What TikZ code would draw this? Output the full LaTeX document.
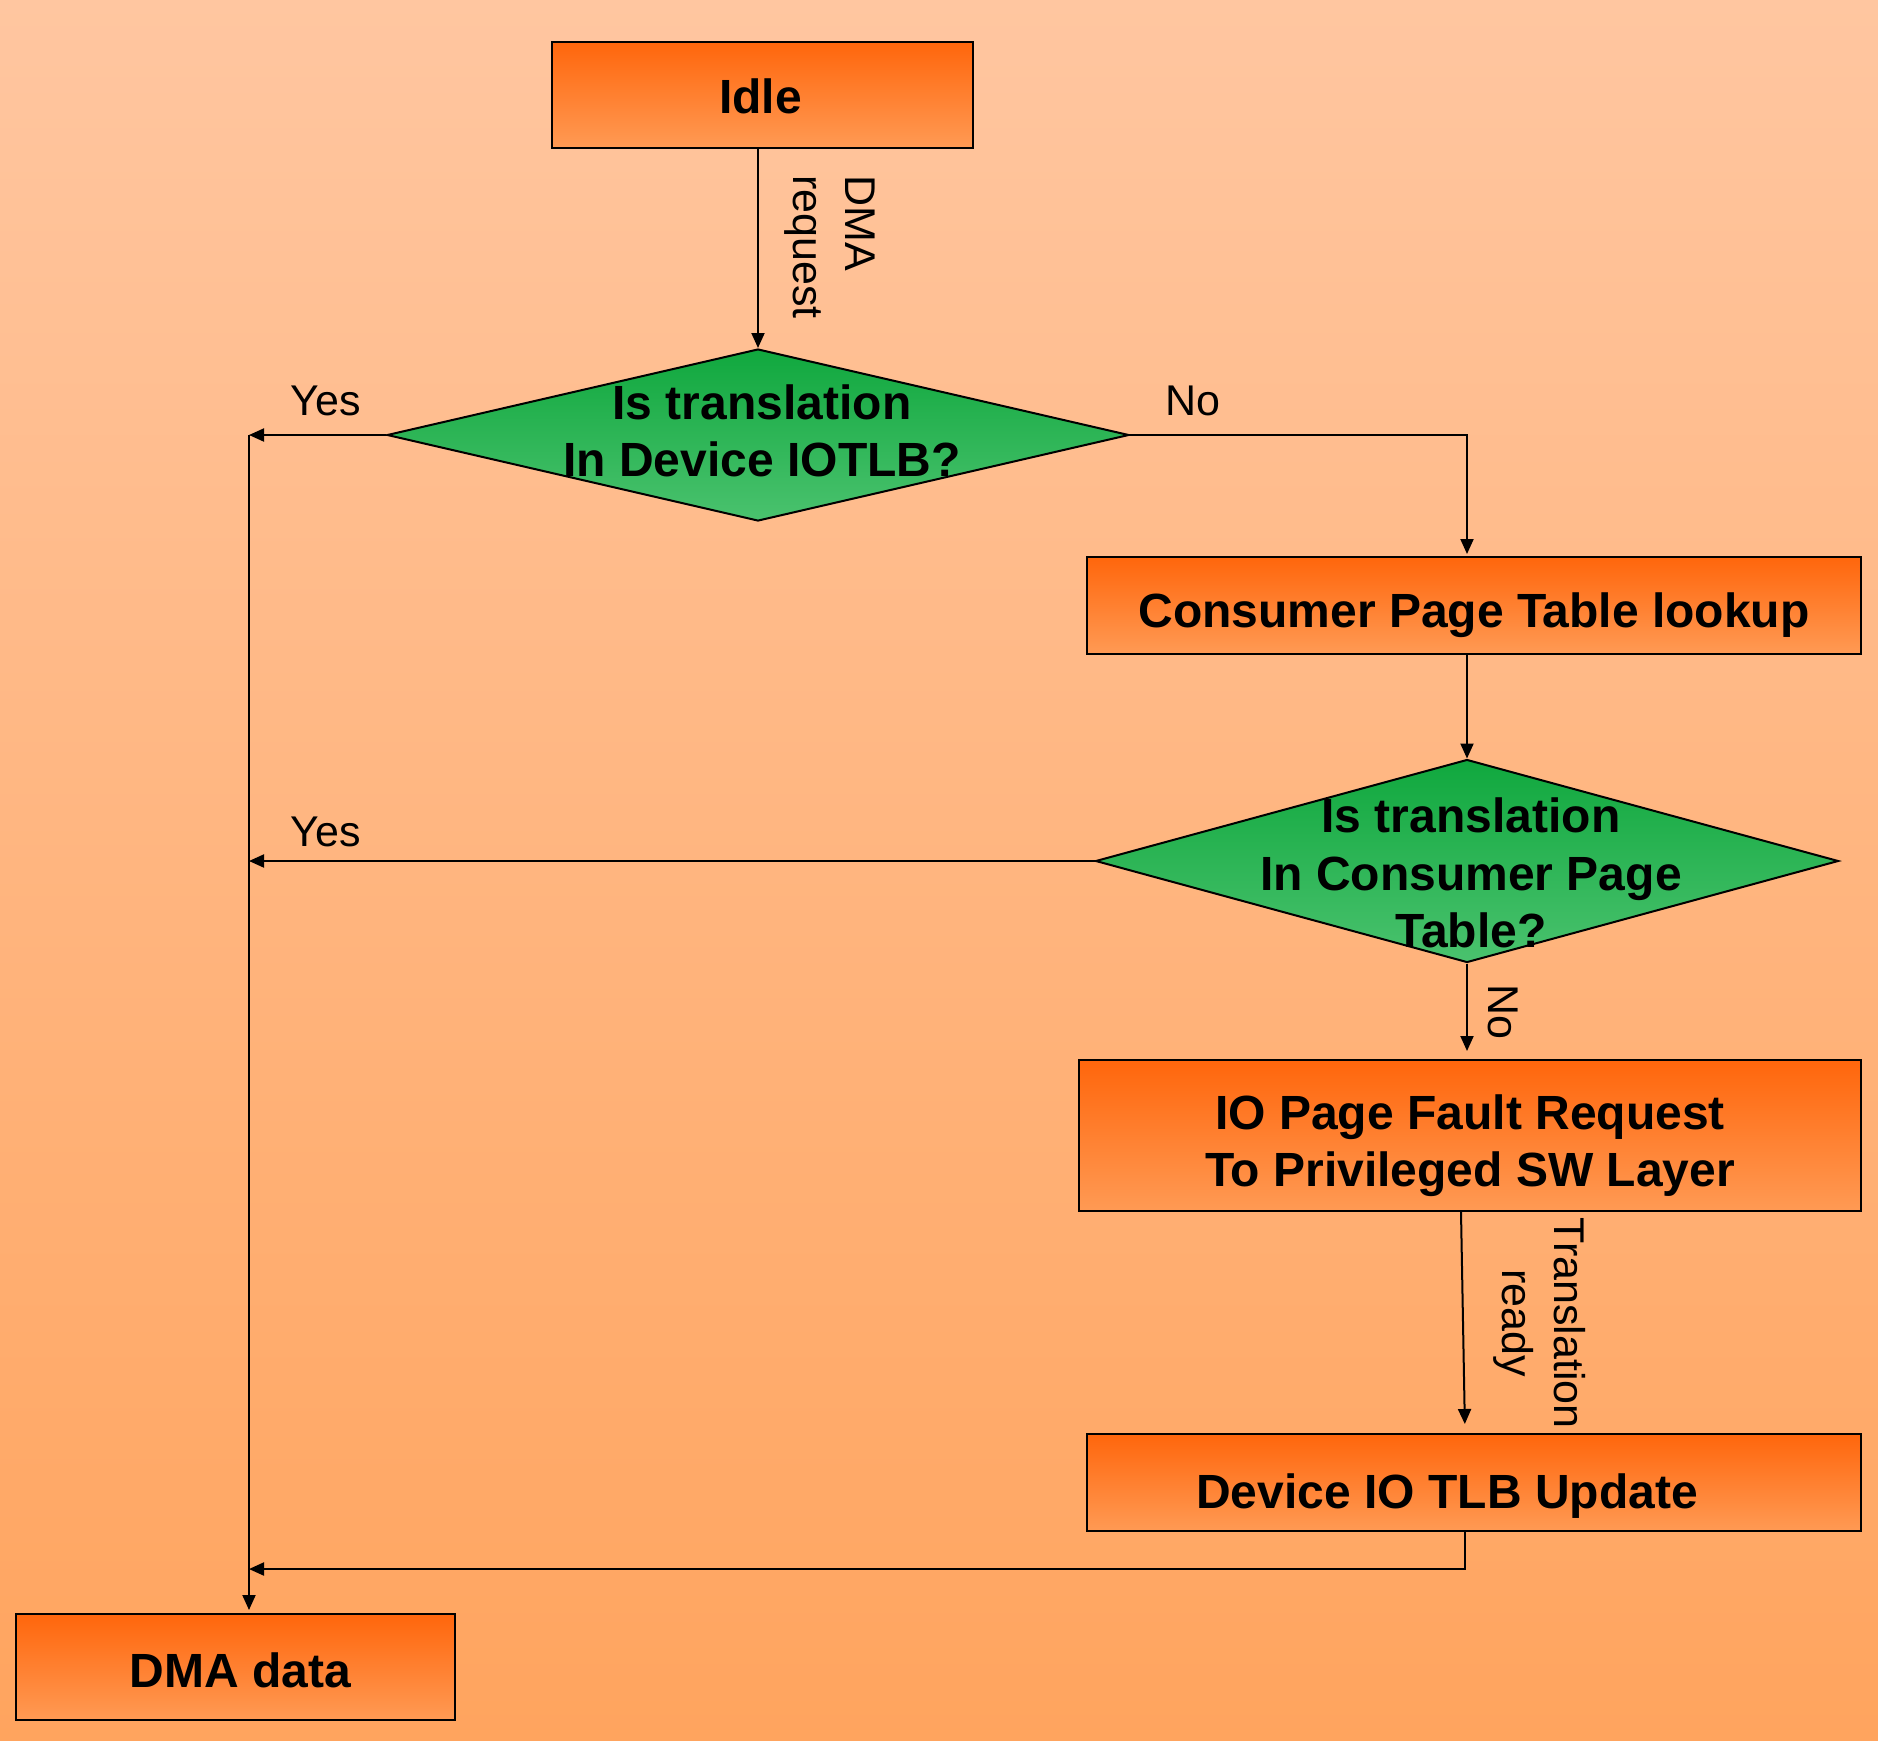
\documentclass[tikz,border=0pt]{standalone}
\usepackage{fontspec}
\setmainfont{Liberation Sans}
\usetikzlibrary{shapes.geometric,arrows.meta,calc}
\definecolor{bgtop}{RGB}{255,198,160}
\definecolor{bgbot}{RGB}{255,164,94}
\definecolor{boxtop}{RGB}{255,102,12}
\definecolor{boxbot}{RGB}{255,154,84}
\definecolor{dtop}{RGB}{16,168,62}
\definecolor{dbot}{RGB}{74,194,110}
\begin{document}
\begin{tikzpicture}[x=1pt,y=-1pt,
  boxfont/.style={font=\bfseries\fontsize{48}{57.6}\selectfont, align=center, inner sep=0pt},
  stepbox/.style={draw=black, line width=2pt, rectangle, inner sep=0pt,
    top color=boxtop, bottom color=boxbot},
  decision/.style={draw=black, line width=2pt, diamond, inner sep=0pt,
    top color=dtop, bottom color=dbot},
  lbl/.style={font=\fontsize{43}{52}\selectfont, inner sep=0pt},
  flow/.style={line width=2pt, -{Triangle[length=15pt,width=13pt]}}]

% background
\useasboundingbox (0,0) rectangle (1878,1740);
\fill[top color=bgtop, bottom color=bgbot] (0,0) rectangle (1878,1740);

% process boxes
\node[stepbox, minimum width=421pt, minimum height=106pt,
  label={[boxfont, xshift=-2pt, yshift=-1pt]center:Idle}] (idle) at (762.5,95) {};
\node[stepbox, minimum width=774pt, minimum height=97pt,
  label={[boxfont, yshift=-10pt]center:Consumer Page Table lookup}] (cpt) at (1474,605.5) {};
\node[stepbox, minimum width=782pt, minimum height=151pt,
  label={[boxfont, yshift=-10pt]center:IO Page Fault Request\\To Privileged SW Layer}] (io) at (1470,1135.5) {};
\node[stepbox, minimum width=774pt, minimum height=97pt,
  label={[boxfont, xshift=-27pt, yshift=-14pt]center:Device IO TLB Update}] (tlb) at (1474,1482.5) {};
\node[stepbox, minimum width=439pt, minimum height=106pt,
  label={[boxfont, xshift=5pt, yshift=-3pt]center:DMA data}] (dma) at (235.5,1667) {};

% decisions
\node[decision, minimum width=742pt, minimum height=172pt,
  label={[boxfont, xshift=4pt, yshift=4pt]center:Is translation\\In Device IOTLB?}] (d1) at (758,435) {};
\node[decision, minimum width=743pt, minimum height=203pt,
  label={[boxfont, xshift=4pt, yshift=-12pt]center:Is translation\\In Consumer Page\\Table?}] (d2) at (1467,861) {};

% junctions on the collecting line
\coordinate (j1) at (249,435);
\coordinate (j2) at (249,861);
\coordinate (j3) at (249,1569);

% connectors
\draw[flow] (idle.south -| d1.north) -- (d1.north);
\draw[flow] (d1.west) -- (j1);
\draw[flow, shorten >=3pt] (j1) -- (j1 |- dma.north);
\draw[flow, shorten >=2pt] (d1.east) -| (cpt.north -| d2.north);
\draw[flow] (cpt.south -| d2.north) -- (d2.north);
\draw[flow] (d2.west) -- (j2);
\draw[flow, shorten >=8pt] (d2.south) -- (d2.south |- io.north);
\draw[flow, shorten >=9pt] ($(io.south)+(-9,0)$) -- ($(tlb.north)+(-9,0)$);
\draw[flow] ($(tlb.south)+(-9,0)$) |- (j3);

% connector labels
\node[lbl] (yes1) at (326,401) {Yes};
\node[lbl] (no1) at (1193,401) {No};
\node[lbl] (yes2) at (326,832) {Yes};
\node[lbl, rotate=-90] (no2) at (1503,1012) {No};
\node[lbl, rotate=-90, align=left] (dmareq) at (830,247) {DMA\\request};
\node[lbl, rotate=-90, align=center] (trready) at (1540,1323) {Translation\\ready};
\end{tikzpicture}
\end{document}
